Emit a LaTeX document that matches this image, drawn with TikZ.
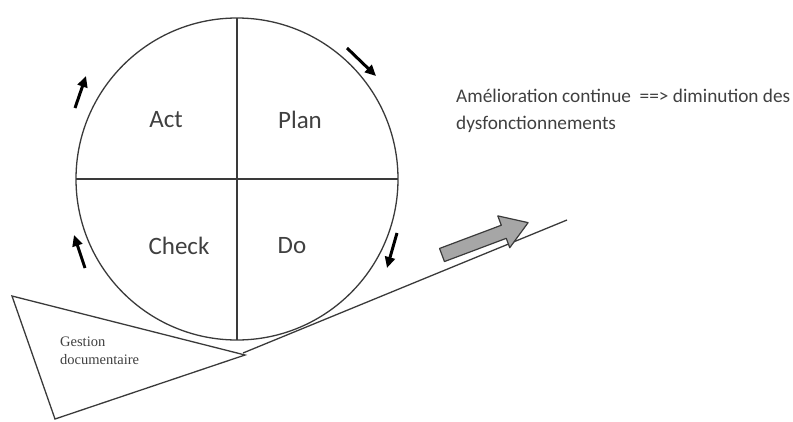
\documentclass[tikz,border=0pt]{standalone}
\usepackage{fontspec}
\setmainfont{Carlito}
\newfontfamily\docfont{Liberation Serif}
\usepackage{tikz}
\usetikzlibrary{arrows.meta}
\definecolor{ink}{HTML}{3A3A3A}
\definecolor{txt}{HTML}{404040}
\definecolor{slopegrey}{HTML}{A6A6A6}
\tikzset{
  rim/.style={line width=1.3pt, draw=ink},
  quad/.style={text=txt, font=\fontsize{25}{30}\selectfont},
  turn/.style={-{Triangle[length=11pt,width=10pt]}, line width=3pt, draw=black},
  note/.style={text=txt, font=\fontsize{19.3}{27}\selectfont, align=left, anchor=west, inner sep=0pt},
  docnote/.style={text=txt, font=\docfont\fontsize{14.5}{18}\selectfont, align=left, anchor=west, inner sep=0pt},
  bigarrow/.style={draw=ink, line width=1.2pt, fill=slopegrey, line join=round}
}

\begin{document}
\begin{tikzpicture}[x=1pt, y=-1pt]
  \useasboundingbox (0,0) rectangle (793,421);

  % slope and document wedge
  \coordinate (S0) at (243,353);
  \coordinate (S1) at (567,220);
  \draw[rim] (S0) -- (S1);
  \draw[rim] (12,296) -- (245,355) -- (55,419) -- cycle;
  \node[docnote] (doc) at (60,351) {Gestion\\documentaire};

  % PDCA wheel
  \coordinate (O) at (237,179);
  \draw[rim] (O) circle (161);
  \draw[rim] (76,179) -- (398,179);
  \draw[rim] (237,18) -- (237,340);
  \node[quad] (act) at (166,120) {Act};
  \node[quad] (plan) at (300,120) {Plan};
  \node[quad] (check) at (179,246) {Check};
  \node[quad] (do) at (292,246) {Do};

  % rotation arrows
  \coordinate (a1) at (347,48);  \coordinate (b1) at (376,76);
  \coordinate (a2) at (397,233); \coordinate (b2) at (387,268);
  \coordinate (a3) at (75,108);  \coordinate (b3) at (86,76);
  \coordinate (a4) at (85,268);  \coordinate (b4) at (74,235);
  \draw[turn] (a1) -- (b1);
  \draw[turn] (a2) -- (b2);
  \draw[turn] (a3) -- (b3);
  \draw[turn] (a4) -- (b4);

  % progress arrow
  \begin{scope}[shift={(442,255)}, rotate=20.6]
    \draw[bigarrow] (0,-7) -- (66,-7) -- (66,-17) -- (92,0) -- (66,17) -- (66,7) -- (0,7) -- cycle;
  \end{scope}

  \node[note] (goal) at (456,111) {Amélioration continue\ \ ==> diminution des\\dysfonctionnements};
\end{tikzpicture}
\end{document}
